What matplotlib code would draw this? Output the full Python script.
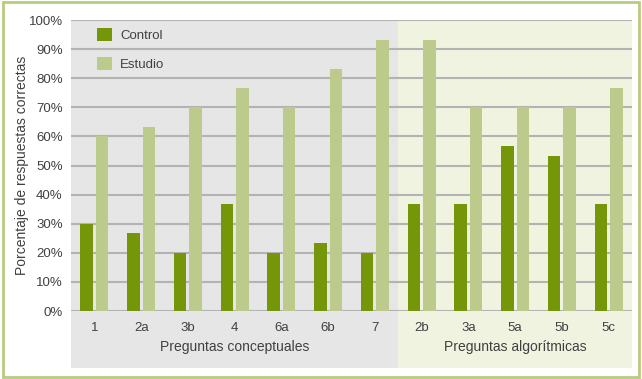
import numpy as np
import matplotlib.pyplot as plt
from matplotlib.patches import Rectangle
import matplotlib.transforms as mtransforms

# data
preguntas = ['1', '2a', '3b', '4', '6a', '6b', '7', '2b', '3a', '5a', '5b', '5c']
control = [30, 26.7, 20, 36.7, 20, 23.3, 20, 36.7, 36.7, 56.7, 53.3, 36.7]
estudio = [60, 63.3, 70, 76.7, 70, 83.3, 93.3, 93.3, 70, 70, 70, 76.7]
grupos = ['Preguntas conceptuales', 'Preguntas algorítmicas']
n_conceptuales = 7

c_control = '#76960a'
c_estudio = '#bccb8c'
txt = '#404040'

plt.rcParams['font.family'] = ['Liberation Sans', 'DejaVu Sans']

fig = plt.figure(figsize=(6.42, 3.79), dpi=100)
fig.patch.set_facecolor('white')
# outer frame
fig.patches.append(Rectangle((0.004, 0.006), 0.991, 0.988, transform=fig.transFigure,
                             fill=False, edgecolor='#b8cc80', linewidth=2))

ax = fig.add_axes([0.1106, 0.1794, 0.8738, 0.7678])
x = np.arange(len(preguntas))
ax.set_xlim(-0.5, len(preguntas) - 0.5)
ax.set_ylim(0, 100)

# background bands (extend below axes to cover tick labels)
trans = mtransforms.blended_transform_factory(ax.transData, ax.transAxes)
ax.add_patch(Rectangle((-0.5, -0.196), n_conceptuales, 1.196, transform=trans,
                       facecolor='#e6e6e6', edgecolor='none', clip_on=False, zorder=0))
ax.add_patch(Rectangle((n_conceptuales - 0.5, -0.196), len(preguntas) - n_conceptuales, 1.196,
                       transform=trans, facecolor='#eff3df', edgecolor='none', clip_on=False, zorder=0))
ax.patch.set_visible(False)

for yv in range(0, 101, 10):
    ax.axhline(yv, color='#b3b3b3', linewidth=1.5, zorder=1)

w = 0.27
ax.bar(x - w / 2 - 0.03, control, width=w, color=c_control, label='Control', zorder=2)
ax.bar(x + w / 2 + 0.03, estudio, width=w, color=c_estudio, label='Estudio', zorder=2)

ax.set_yticks(range(0, 101, 10))
ax.set_yticklabels([f'{v}%' for v in range(0, 101, 10)], color=txt, fontsize=9.5)
ax.set_xticks(x)
ax.set_xticklabels(preguntas, color=txt, fontsize=9.5)
ax.tick_params(length=0, pad=6)
ax.tick_params(axis='x', pad=8)
for s in ax.spines.values():
    s.set_visible(False)

ax.text((n_conceptuales - 1) / 2, -0.125, grupos[0], transform=trans, ha='center', va='center',
        color=txt, fontsize=10)
ax.text((n_conceptuales + len(preguntas) - 1) / 2, -0.125, grupos[1], transform=trans,
        ha='center', va='center', color=txt, fontsize=10)

ax.set_ylabel('Porcentaje de respuestas correctas', color=txt, fontsize=10, labelpad=0)

leg = ax.legend(loc='upper left', bbox_to_anchor=(0.025, 1.015), frameon=False, fontsize=9.5,
                handlelength=1.15, handleheight=1.15, labelspacing=1.2, handletextpad=0.6)
for t in leg.get_texts():
    t.set_color(txt)

fig.savefig('out.png', dpi=100)
